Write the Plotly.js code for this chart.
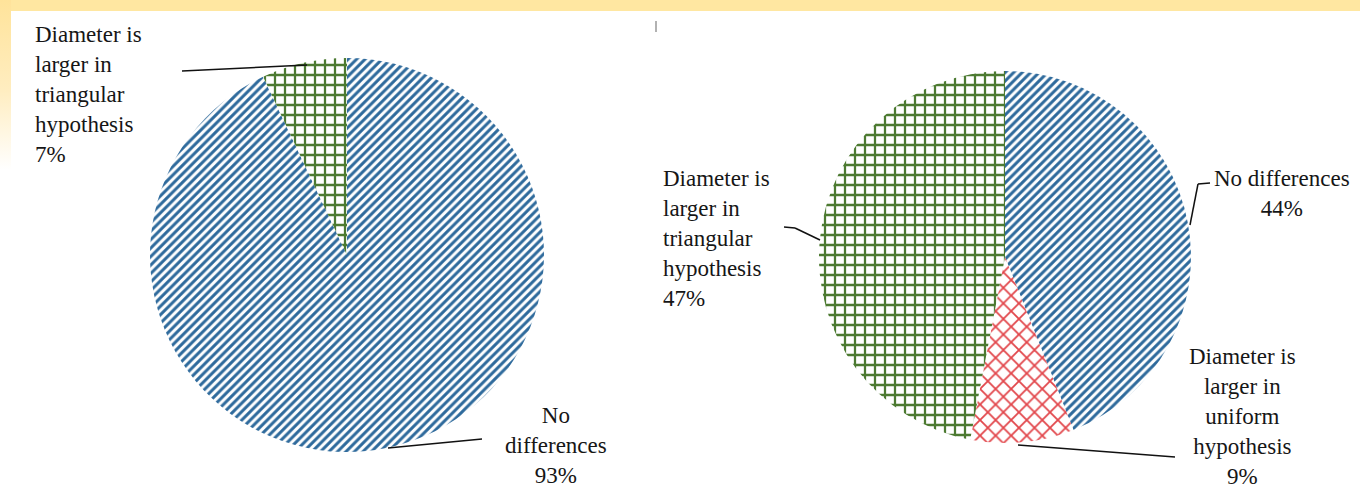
<!DOCTYPE html>
<html>
<head>
<meta charset="utf-8">
<script src="https://cdn.plot.ly/plotly-3.0.1.min.js"></script>
<style>
  html, body { margin: 0; padding: 0; background: #fff; }
  #wrap { position: relative; width: 1360px; height: 491px; overflow: hidden; background: #fff; }
  #topband { position: absolute; left: 0; top: 0; width: 1360px; height: 11px; background: #FFE7A1; z-index: 2; }
  #leftband { position: absolute; left: 0; top: 0; width: 11px; height: 200px;
    background: linear-gradient(to bottom, #FFE39A 0%, #FFEDC0 45%, #FFFFFF 85%); z-index: 2; }
  #chart { position: absolute; left: 0; top: 0; width: 1360px; height: 491px; }
</style>
</head>
<body>
<div id="wrap">
  <div id="chart"></div>
  <div id="topband"></div>
  <div id="leftband"></div>
</div>
<script>
// ---- data ----
const leftLabels = ["No differences", "Diameter is larger in triangular hypothesis"];
const leftValues = [93, 7];
const rightLabels = ["No differences", "Diameter is larger in uniform hypothesis", "Diameter is larger in triangular hypothesis"];
const rightValues = [44, 9, 47];

const leftText = ["No<br>differences<br>93%", "Diameter is<br>larger in<br>triangular<br>hypothesis<br>7%"];
const rightText = ["No differences<br>44%", "Diameter is<br>larger in<br>uniform<br>hypothesis<br>9%", "Diameter is<br>larger in<br>triangular<br>hypothesis<br>47%"];

// ---- styles ----
const W = 1360, H = 491;
const BLUE = "#2E6A9C", GREEN = "#4C7A31", RED = "#E2464B";
const patBlue = {shape: "/", size: 6, solidity: 0.5};
const patGreen = {shape: "+", size: 10, solidity: 0.4};
const patRed = {shape: "x", size: 11, solidity: 0.3};

const px = x => x / W;
const py = y => 1 - y / H;

const traces = [
  {
    type: "pie", labels: leftLabels, values: leftValues, sort: false,
    direction: "clockwise", rotation: 0, textinfo: "none", hoverinfo: "label+percent",
    domain: {x: [px(150), px(544)], y: [py(452), py(58)]},
    marker: {colors: ["#ffffff", "#ffffff"], pattern: {
      shape: [patBlue.shape, patGreen.shape], fgcolor: [BLUE, GREEN], bgcolor: ["#fff", "#fff"],
      size: [patBlue.size, patGreen.size], solidity: [patBlue.solidity, patGreen.solidity], fillmode: "replace"},
      line: {width: 0}},
    showlegend: false
  },
  {
    type: "pie", labels: rightLabels, values: rightValues, sort: false,
    direction: "clockwise", rotation: 0, textinfo: "none", hoverinfo: "label+percent",
    domain: {x: [px(819), px(1191)], y: [py(443), py(71)]},
    marker: {colors: ["#ffffff", "#ffffff", "#ffffff"], pattern: {
      shape: [patBlue.shape, patRed.shape, patGreen.shape], fgcolor: [BLUE, RED, GREEN], bgcolor: ["#fff", "#fff", "#fff"],
      size: [patBlue.size, patRed.size, patGreen.size], solidity: [patBlue.solidity, patRed.solidity, patGreen.solidity], fillmode: "replace"},
      line: {width: 0}},
    showlegend: false
  }
];

const font = {family: "'Liberation Serif', 'Times New Roman', Times, serif", size: 23, color: "#161616"};
function ann(text, x, y, xanchor, align) {
  return {text, x: px(x), y: py(y), xref: "paper", yref: "paper", xanchor, yanchor: "top",
    align, showarrow: false, font};
}
const annotations = [
  ann(leftText[1], 33, 20, "left", "left"),
  ann(leftText[0], 556, 401, "center", "center"),
  ann(rightText[2], 661, 164, "left", "left"),
  ann(rightText[0], 1282, 164, "center", "center"),
  ann(rightText[1], 1242, 342, "center", "center")
];

function seg(x0, y0, x1, y1, color, width) {
  return {type: "line", xref: "paper", yref: "paper", x0: px(x0), y0: py(y0), x1: px(x1), y1: py(y1),
    line: {color: color || "#111", width: width || 1.5}};
}
const shapes = [
  seg(182, 71, 307, 65),
  seg(388, 448, 482, 439),
  seg(784, 227, 795, 228), seg(795, 228, 820, 240),
  seg(1210, 183, 1198, 184), seg(1198, 184, 1190, 225),
  seg(1018, 445, 1175, 457),
  seg(656, 21, 656, 32, "#999", 1.5)
];

const layout = {
  width: W, height: H, margin: {l: 0, r: 0, t: 0, b: 0},
  paper_bgcolor: "#ffffff", plot_bgcolor: "#ffffff",
  showlegend: false, annotations, shapes
};
Plotly.newPlot("chart", traces, layout, {displayModeBar: false, staticPlot: true});
</script>
</body>
</html>
